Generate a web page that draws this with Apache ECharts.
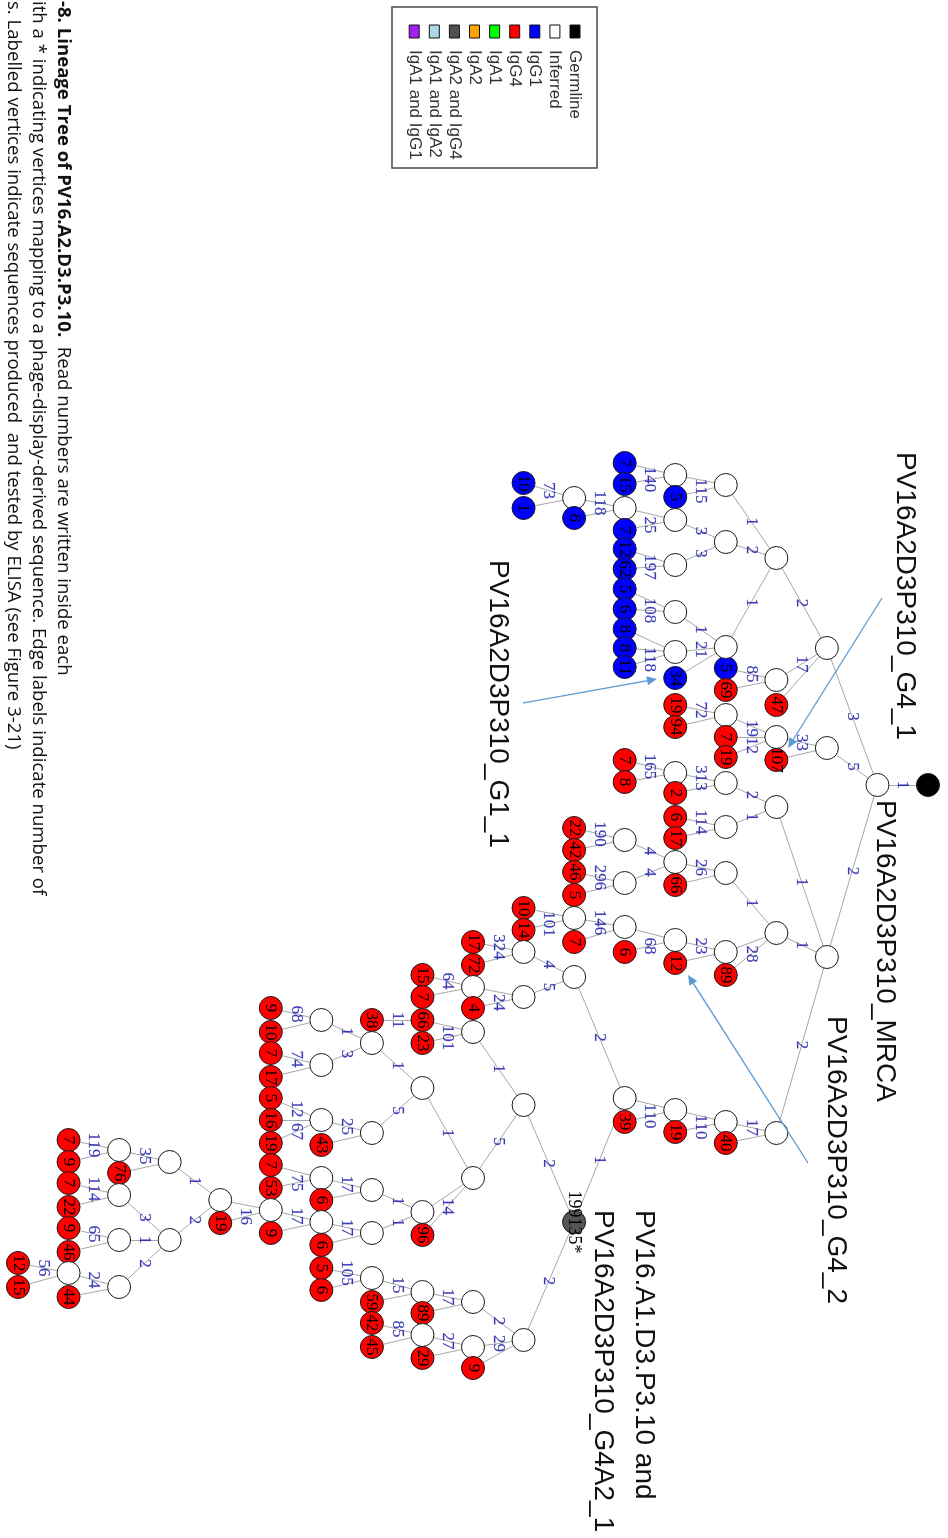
<!DOCTYPE html>
<html>
<head>
<meta charset="utf-8">
<script src="https://cdn.jsdelivr.net/npm/echarts@6/dist/echarts.min.js"></script>
<style>
  html, body { margin: 0; padding: 0; background: #fff; overflow: hidden; width: 948px; height: 1538px; }
  /* the figure is laid out in landscape and turned a quarter turn clockwise on the page */
  #chart { position: absolute; left: 0; top: 0; width: 1538px; height: 948px;
           transform-origin: 0 0; transform: translate(948px, 0) rotate(90deg); }
</style>
</head>
<body>
<div id="chart"></div>
<script>
// ---- lineage tree data ----
// parent vertex of each vertex (-1 = germline root); depth follows from the parent chain
const nodeParent = [-1,0,1,1,1,2,2,5,5,5, 7,7,3,3,3,13,13,12,12,12, 17,17,18,18,19,19,19,20,20,22,
  22,23,23,24,24,25,25,25,29,29, 38,38,4,4,4,42,42,45,45,46, 46,47,47,43,43,43,53,53,56,56,
  58,58,59,59,54,54,64,64,66,66, 68,68,44,44,72,72,74,74,76,76, 78,78,80,80,81,81,84,84,79,79,
  88,88,90,90,92,91,91,91,95,95, 98,98,100,100,101,101,99,99,106,106, 106,96,96,111,111,113,113,112,112,117,
  117,119,119,121,121,123,123,124,124,124, 125,125,127,127,128,128,129,129,136,136, 89,89,89,140,140,141,141,143,143,145,
  145,147,147];
// horizontal lane of each vertex across the tree
const nodeLane = [785,785,748,648,957,737,760,715,737,757, 705,727,558,680,705,668,690,485,542,647,
  475,497,520,565,612,652,678,463,484,508, 530,549,569,589,609,629,648,667,498,518,
  483,508,807,933,1133,783,827,773,793,817, 838,760,782,873,952,975,862,885,840,883,
  828,850,872,895,940,963,927,952,918,942, 908,930,1122,1143,1110,1132,1098,1122,977,1222,
  952,997,942,965,987,1008,975,997,1105,1340, 1032,1178,1020,1043,1020,1088,1212,1235,1043,1133,
  1020,1065,1008,1032,1053,1077,1120,1145,1098,1120, 1143,1190,1233,1178,1200,1165,1188,1222,1245,1210,
  1233,1200,1223,1162,1240,1150,1173,1195,1240,1287, 1140,1162,1183,1207,1228,1252,1273,1297,1263,1287,
  1302,1347,1368,1292,1313,1335,1358,1278,1302,1323, 1347,1268,1290];
// vertex class: K germline, I inferred, B IgG1, R IgG4, D IgA2 and IgG4
const nodeKind = ['K','I','I','I','I','I','R','I','R','R', 'R','R','I','I','R','B','R','I','I','I',
  'I','B','I','I','I','I','B','B','B','I', 'B','B','B','B','B','B','B','B','I','B',
  'B','B','I','I','I','I','I','I','R','R', 'R','R','R','I','I','R','I','R','I','I',
  'R','R','R','R','I','R','I','R','I','R', 'R','R','I','R','I','R','I','R','I','D',
  'I','I','R','R','I','R','R','R','I','I', 'I','I','R','R','R','I','I','R','I','I',
  'I','I','R','R','R','R','I','R','R','R', 'R','I','I','I','R','R','R','I','R','I',
  'R','I','R','I','I','I','R','I','I','I', 'R','R','R','R','R','R','I','R','R','R',
  'I','I','R','I','R','I','R','I','R','R', 'R','R','R'];
// read numbers written inside the vertices
const nodeReads = ['','','','','','','107','','7','19', '19','94','','','47','5','69','','','',
  '','5','','','','','34','7','15','', '7','12','62','5','6','8','8','11','','8',
  '10','1','','','','','','','2','6', '17','7','8','','','89','','66','','',
  '22','42','46','5','','12','','6','','7', '10','14','','40','','19','','39','','199135*',
  '','','17','72','','4','15','7','','', '','','66','23','38','','','96','','',
  '','','9','10','7','17','','43','5','16', '19','','','','6','7','53','','6','',
  '9','','19','','','','76','','','', '7','9','7','22','9','46','','44','12','15',
  '','','9','','89','','29','','59','42', '45','5','6'];
// mutation counts written on the edge leading into each vertex
const edgeText = ['','1','5','3','2','33','','','1912','', '72','','2','17','','85','','1','2','1',
  '','115','3','3','1','21','','','140','', '25','','197','','108','','','118','118','',
  '73','','1','1','2','2','1','313','','114', '','165','','1','','28','26','','4','4',
  '190','','296','','23','','','68','146','', '','101','17','','','110','','110','2','1',
  '4','5','324','','','24','64','','2','2', '1','5','','101','11','1','','14','1','5',
  '1','3','68','','74','','25','','12','', '67','1','1','17','','','75','17','','17',
  '','','16','1','2','35','','3','1','2', '119','','114','','65','','24','','56','',
  '2','29','','17','','27','','15','','85', '','105',''];

const legendNames = ['Germline','Inferred','IgG1','IgG4','IgA1','IgA2','IgA2 and IgG4','IgA1 and IgA2','IgA1 and IgG1'];
const legendColors = ['#000000','#ffffff','#0000ff','#ff0000','#00ff00','#ffa500','#505050','#add8e6','#a020f0'];

const captionLines = [
  ['-8. Lineage Tree of PV16.A2.D3.P3.10.', '  Read numbers are written inside each'],
  ['', 'ith a * indicating vertices mapping to a phage-display-derived sequence. Edge labels indicate number of'],
  ['', 's. Labelled vertices indicate sequences produced  and tested by ELISA (see Figure 3-21)']
];

// ---- derived structures ----
const kindColor = { K: '#000000', I: '#ffffff', B: '#0000ff', R: '#ff0000', D: '#555555' };
const depth = [];
nodeParent.forEach(function (p, i) { depth[i] = p < 0 ? 0 : depth[p] + 1; });

const graphNodes = nodeLane.map(function (lane, i) {
  const item = {
    id: 'v' + i,
    name: nodeReads[i],
    value: [lane, depth[i]],
    itemStyle: { color: kindColor[nodeKind[i]] }
  };
  if (nodeKind[i] === 'D') item.label = { fontSize: 18 };
  return item;
});
const graphLinks = [];
const edgeMarks = [];
nodeParent.forEach(function (p, i) {
  if (p < 0) return;
  graphLinks.push({ source: p, target: i });
  if (edgeText[i]) {
    edgeMarks.push({ value: [(nodeLane[p] + nodeLane[i]) / 2, (depth[p] + depth[i]) / 2], text: edgeText[i] });
  }
});

// ---- decorations: legend, caption, vertex names and pointers ----
const graphics = [];
graphics.push({ type: 'rect', shape: { x: 7, y: 351, width: 161, height: 205 },
  style: { fill: '#ffffff', stroke: '#4a4a4a', lineWidth: 1.5 }, z: 10 });
legendNames.forEach(function (nm, k) {
  const cy = 373 + 20.1 * k;
  graphics.push({ type: 'rect', shape: { x: 25, y: cy - 5, width: 13, height: 10 },
    style: { fill: legendColors[k], stroke: '#111', lineWidth: 1 }, z: 11 });
  graphics.push({ type: 'text', x: 50, y: cy,
    style: { text: nm, font: '17px "Liberation Sans", Arial, sans-serif', fill: '#333', verticalAlign: 'middle' }, z: 11 });
});

captionLines.forEach(function (ln, k) {
  const txt = (ln[0] ? '{b|' + ln[0] + '}' : '') + ln[1];
  graphics.push({ type: 'text', x: 1, y: 885 + 25 * k,
    style: { text: txt, font: '18.6px "Open Sans", sans-serif', fill: '#111', verticalAlign: 'middle',
      rich: { b: { fontWeight: 'bold', fontSize: 18.6, fontFamily: 'Open Sans', fill: '#111' } } }, z: 11 });
});

const vertexNames = [
  ['PV16A2D3P310_G4_1', 452, 43],
  ['PV16A2D3P310_MRCA', 800, 63],
  ['PV16A2D3P310_G4_2', 1016, 112],
  ['PV16A2D3P310_G1_1', 560, 450],
  ['PV16.A1.D3.P3.10 and', 1210, 304],
  ['PV16A2D3P310_G4A2_1', 1210, 345]
];
vertexNames.forEach(function (t) {
  graphics.push({ type: 'text', x: t[1], y: t[2],
    style: { text: t[0], font: '28px "Liberation Sans", Arial, sans-serif', fill: '#111', verticalAlign: 'middle' }, z: 11 });
});

const pointers = [[598, 66, 748, 160], [703, 425, 679, 291], [1163, 140, 975, 260]];
pointers.forEach(function (a) {
  const ang = Math.atan2(a[3] - a[1], a[2] - a[0]);
  const L = 10, W = 4.5;
  const bx = a[2] - L * Math.cos(ang), by = a[3] - L * Math.sin(ang);
  graphics.push({ type: 'line', shape: { x1: a[0], y1: a[1], x2: bx, y2: by },
    style: { stroke: '#5b9bd5', lineWidth: 1.3 }, z: 12 });
  graphics.push({ type: 'polygon', shape: { points: [[a[2], a[3]],
      [bx + W * Math.sin(ang), by - W * Math.cos(ang)], [bx - W * Math.sin(ang), by + W * Math.cos(ang)]] },
    style: { fill: '#5b9bd5' }, z: 12 });
});

const chart = echarts.init(document.getElementById('chart'), null, { renderer: 'canvas' });
chart.setOption({
  animation: false,
  backgroundColor: '#ffffff',
  grid: { left: 0, right: 0, top: 0, bottom: 0 },
  xAxis: { type: 'value', min: 0, max: 1538, show: false },
  yAxis: { type: 'value', min: -0.3956, max: 18.356, inverse: true, show: false },
  series: [
    {
      type: 'graph',
      coordinateSystem: 'cartesian2d',
      symbol: 'circle',
      symbolSize: 23,
      data: graphNodes,
      links: graphLinks,
      itemStyle: { borderColor: '#1a1a1a', borderWidth: 1 },
      lineStyle: { color: '#a8a8a8', width: 1, opacity: 1, curveness: 0 },
      label: { show: true, position: 'inside', formatter: '{b}', color: '#000',
               fontFamily: 'Liberation Serif', fontSize: 17 },
      emphasis: { disabled: true },
      silent: true,
      z: 2
    },
    {
      type: 'scatter',
      data: edgeMarks,
      symbolSize: 1,
      itemStyle: { color: 'rgba(0,0,0,0)' },
      label: { show: true, position: 'inside', formatter: function (p) { return p.data.text; },
               color: '#0c0ca6', fontFamily: 'Liberation Serif', fontSize: 17,
               textBorderColor: 'rgba(12,12,166,0.35)', textBorderWidth: 0.4 },
      emphasis: { disabled: true },
      silent: true,
      z: 3
    }
  ],
  graphic: graphics
});
</script>
</body>
</html>
